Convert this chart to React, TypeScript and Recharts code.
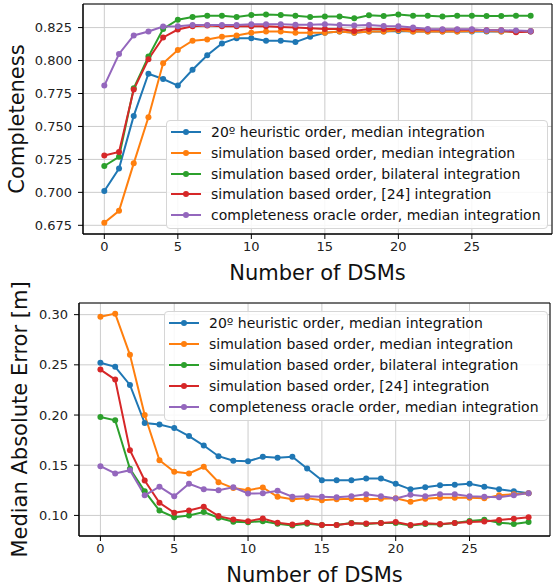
import React from 'react';
import { LineChart, Line, XAxis, YAxis, CartesianGrid, ReferenceArea, Legend } from 'recharts';

const dsmCounts = [0, 1, 2, 3, 4, 5, 6, 7, 8, 9, 10, 11, 12, 13, 14, 15, 16, 17, 18, 19, 20, 21, 22, 23, 24, 25, 26, 27, 28, 29];

const seriesNames = [
  '20º heuristic order, median integration',
  'simulation based order, median integration',
  'simulation based order, bilateral integration',
  'simulation based order, [24] integration',
  'completeness oracle order, median integration',
];
const seriesColors = ['#1f77b4', '#ff7f0e', '#2ca02c', '#d62728', '#9467bd'];

// Completeness
const heuristicCompleteness = [0.701, 0.718, 0.758, 0.790, 0.786, 0.781, 0.793, 0.804, 0.813, 0.817, 0.817, 0.815, 0.815, 0.814, 0.818, 0.821, 0.822, 0.821, 0.822, 0.822, 0.8225, 0.822, 0.822, 0.822, 0.822, 0.822, 0.822, 0.822, 0.822, 0.822];
const simMedianCompleteness = [0.677, 0.686, 0.722, 0.757, 0.798, 0.808, 0.815, 0.816, 0.818, 0.819, 0.821, 0.822, 0.822, 0.821, 0.821, 0.821, 0.822, 0.821, 0.822, 0.822, 0.823, 0.822, 0.822, 0.822, 0.822, 0.8225, 0.8225, 0.822, 0.822, 0.8225];
const simBilateralCompleteness = [0.720, 0.727, 0.779, 0.803, 0.824, 0.831, 0.833, 0.834, 0.834, 0.833, 0.8345, 0.835, 0.8345, 0.834, 0.833, 0.8335, 0.8335, 0.832, 0.8343, 0.8338, 0.835, 0.834, 0.834, 0.8334, 0.834, 0.834, 0.8338, 0.8338, 0.834, 0.834];
const sim24Completeness = [0.728, 0.7306, 0.778, 0.801, 0.8175, 0.8235, 0.826, 0.8265, 0.826, 0.826, 0.826, 0.826, 0.8255, 0.825, 0.8245, 0.824, 0.824, 0.8224, 0.824, 0.824, 0.824, 0.8237, 0.8234, 0.8234, 0.8234, 0.8234, 0.823, 0.823, 0.8215, 0.822];
const oracleCompleteness = [0.781, 0.805, 0.819, 0.822, 0.8258, 0.826, 0.827, 0.827, 0.827, 0.827, 0.8275, 0.8275, 0.8275, 0.8272, 0.8272, 0.8275, 0.827, 0.8266, 0.827, 0.8263, 0.826, 0.825, 0.824, 0.8237, 0.8237, 0.8237, 0.823, 0.823, 0.8228, 0.8225];

// Median absolute error
const heuristicMAE = [0.252, 0.248, 0.230, 0.192, 0.1905, 0.187, 0.179, 0.1696, 0.159, 0.1544, 0.154, 0.1584, 0.1574, 0.1584, 0.1468, 0.135, 0.135, 0.135, 0.1368, 0.1368, 0.1316, 0.126, 0.128, 0.130, 0.1306, 0.1316, 0.1286, 0.126, 0.1242, 0.1222];
const simMedianMAE = [0.298, 0.301, 0.260, 0.200, 0.155, 0.1435, 0.1418, 0.1485, 0.1331, 0.1272, 0.1252, 0.1278, 0.1186, 0.116, 0.117, 0.1152, 0.116, 0.1166, 0.116, 0.1166, 0.117, 0.1136, 0.1166, 0.1176, 0.1176, 0.1176, 0.117, 0.120, 0.1212, 0.1222];
const simBilateralMAE = [0.198, 0.1948, 0.1464, 0.124, 0.1048, 0.0982, 0.100, 0.1033, 0.0977, 0.0937, 0.0933, 0.0943, 0.0917, 0.090, 0.0917, 0.0905, 0.0905, 0.0925, 0.0915, 0.0925, 0.0925, 0.090, 0.0915, 0.091, 0.0925, 0.0945, 0.0957, 0.0928, 0.0915, 0.0934];
const sim24MAE = [0.2453, 0.2353, 0.165, 0.1348, 0.1126, 0.1027, 0.105, 0.1086, 0.0993, 0.096, 0.0943, 0.097, 0.0927, 0.091, 0.0927, 0.0905, 0.0905, 0.0922, 0.092, 0.0925, 0.0934, 0.0905, 0.0922, 0.0915, 0.0925, 0.0934, 0.094, 0.0955, 0.0968, 0.0982];
const oracleMAE = [0.1491, 0.1418, 0.145, 0.120, 0.1286, 0.1192, 0.1316, 0.126, 0.125, 0.128, 0.1219, 0.122, 0.1246, 0.1186, 0.119, 0.1186, 0.118, 0.1192, 0.1212, 0.1192, 0.1169, 0.1206, 0.1192, 0.1212, 0.1212, 0.1192, 0.1186, 0.1182, 0.1202, 0.1222];

const xTicks = [0, 5, 10, 15, 20, 25];
const completenessTicks = [0.675, 0.7, 0.725, 0.75, 0.775, 0.8, 0.825];
const maeTicks = [0.1, 0.15, 0.2, 0.25, 0.3];

const keys = ['s0', 's1', 's2', 's3', 's4'];

const completenessData = dsmCounts.map((n, i) => ({
  n,
  s0: heuristicCompleteness[i],
  s1: simMedianCompleteness[i],
  s2: simBilateralCompleteness[i],
  s3: sim24Completeness[i],
  s4: oracleCompleteness[i],
}));

const maeData = dsmCounts.map((n, i) => ({
  n,
  s0: heuristicMAE[i],
  s1: simMedianMAE[i],
  s2: simBilateralMAE[i],
  s3: sim24MAE[i],
  s4: oracleMAE[i],
}));

const FONT = 'DejaVu Sans';
const X_DOMAIN: [number, number] = [-1.45, 30.45];
const C_DOMAIN: [number, number] = [0.6684, 0.8429];
const M_DOMAIN: [number, number] = [0.0795, 0.3116];

const tickStyle = { fontSize: 13, fontFamily: FONT, fill: '#222' };

const makeXLabel = (text: string) => (props: any) => {
  const vb = props.viewBox || {};
  return (
    <text x={vb.x + vb.width / 2} y={vb.y + 46} textAnchor="middle" fontSize={21} fontFamily={FONT} fill="#111">
      {text}
    </text>
  );
};

const makeYLabel = (text: string, dx: number) => (props: any) => {
  const vb = props.viewBox || {};
  const cx = vb.x + dx;
  const cy = vb.y + vb.height / 2;
  return (
    <text x={cx} y={cy} transform={`rotate(-90, ${cx}, ${cy})`} textAnchor="middle" fontSize={21} fontFamily={FONT} fill="#111">
      {text}
    </text>
  );
};

const makeLegend = (width: number, rowH: number) => () => (
  <div
    style={{
      width,
      boxSizing: 'border-box',
      border: '1px solid #d6d6d6',
      borderRadius: 4,
      background: 'rgba(255,255,255,0.85)',
      padding: '1px 4px 3px 4px',
      fontFamily: FONT,
      fontSize: 14,
      color: '#111',
    }}
  >
    {seriesNames.map((name, i) => (
      <div key={name} style={{ height: rowH, display: 'flex', alignItems: 'center' }}>
        <svg width={30} height={10} style={{ flex: 'none' }}>
          <line x1={0} y1={5} x2={30} y2={5} stroke={seriesColors[i]} strokeWidth={2} />
          <circle cx={15} cy={5} r={3} fill={seriesColors[i]} />
        </svg>
        <span style={{ marginLeft: 10, whiteSpace: 'nowrap', lineHeight: '16px' }}>{name}</span>
      </div>
    ))}
  </div>
);

const renderLines = () =>
  keys.map((k, i) => (
    <Line
      key={k}
      type="linear"
      dataKey={k}
      name={seriesNames[i]}
      stroke={seriesColors[i]}
      strokeWidth={2}
      dot={{ r: 3, fill: seriesColors[i], stroke: seriesColors[i], strokeWidth: 0 }}
      activeDot={false}
      isAnimationActive={false}
    />
  ));

export default function App() {
  return (
    <div style={{ position: 'absolute', left: 0, top: 0, width: 557, height: 586, background: '#fff' }}>
      <div style={{ position: 'absolute', left: 0, top: 0 }}>
        <LineChart width={557} height={290} data={completenessData} margin={{ top: 4, right: 5, left: 0, bottom: 0 }}>
          <CartesianGrid stroke="#cccccc" strokeWidth={1} />
          <XAxis
            type="number"
            dataKey="n"
            domain={X_DOMAIN}
            allowDataOverflow
            ticks={xTicks}
            height={56}
            tick={tickStyle}
            tickSize={5}
            tickMargin={3}
            tickLine={{ stroke: '#000' }}
            axisLine={{ stroke: '#000' }}
            label={{ content: makeXLabel('Number of DSMs') }}
          />
          <YAxis
            type="number"
            domain={C_DOMAIN}
            allowDataOverflow
            ticks={completenessTicks}
            width={83}
            tick={tickStyle}
            tickSize={5}
            tickMargin={6}
            tickLine={{ stroke: '#000' }}
            axisLine={{ stroke: '#000' }}
            tickFormatter={(v: number) => v.toFixed(3)}
            label={{ content: makeYLabel('Completeness', 24) }}
          />
          <ReferenceArea x1={X_DOMAIN[0]} x2={X_DOMAIN[1]} y1={C_DOMAIN[0]} y2={C_DOMAIN[1]} fill="none" stroke="#000" strokeWidth={1} ifOverflow="visible" />
          {renderLines()}
          <Legend
            layout="vertical"
            align="center"
            verticalAlign="middle"
            content={makeLegend(382, 20.7)}
            wrapperStyle={{ left: 166, top: 120, width: 382 }}
          />
        </LineChart>
      </div>
      <div style={{ position: 'absolute', left: 0, top: 260 }}>
        <LineChart width={557} height={326} data={maeData} margin={{ top: 43, right: 7, left: 0, bottom: 0 }}>
          <CartesianGrid stroke="#cccccc" strokeWidth={1} />
          <XAxis
            type="number"
            dataKey="n"
            domain={X_DOMAIN}
            allowDataOverflow
            ticks={xTicks}
            height={50}
            tick={tickStyle}
            tickSize={5}
            tickMargin={3}
            tickLine={{ stroke: '#000' }}
            axisLine={{ stroke: '#000' }}
            label={{ content: makeXLabel('Number of DSMs') }}
          />
          <YAxis
            type="number"
            domain={M_DOMAIN}
            allowDataOverflow
            ticks={maeTicks}
            width={79}
            tick={tickStyle}
            tickSize={5}
            tickMargin={6}
            tickLine={{ stroke: '#000' }}
            axisLine={{ stroke: '#000' }}
            tickFormatter={(v: number) => v.toFixed(2)}
            label={{ content: makeYLabel('Median Absolute Error [m]', 27) }}
          />
          <ReferenceArea x1={X_DOMAIN[0]} x2={X_DOMAIN[1]} y1={M_DOMAIN[0]} y2={M_DOMAIN[1]} fill="none" stroke="#000" strokeWidth={1} ifOverflow="visible" />
          {renderLines()}
          <Legend
            layout="vertical"
            align="center"
            verticalAlign="middle"
            content={makeLegend(384, 20.85)}
            wrapperStyle={{ left: 164, top: 51, width: 384 }}
          />
        </LineChart>
      </div>
    </div>
  );
}
